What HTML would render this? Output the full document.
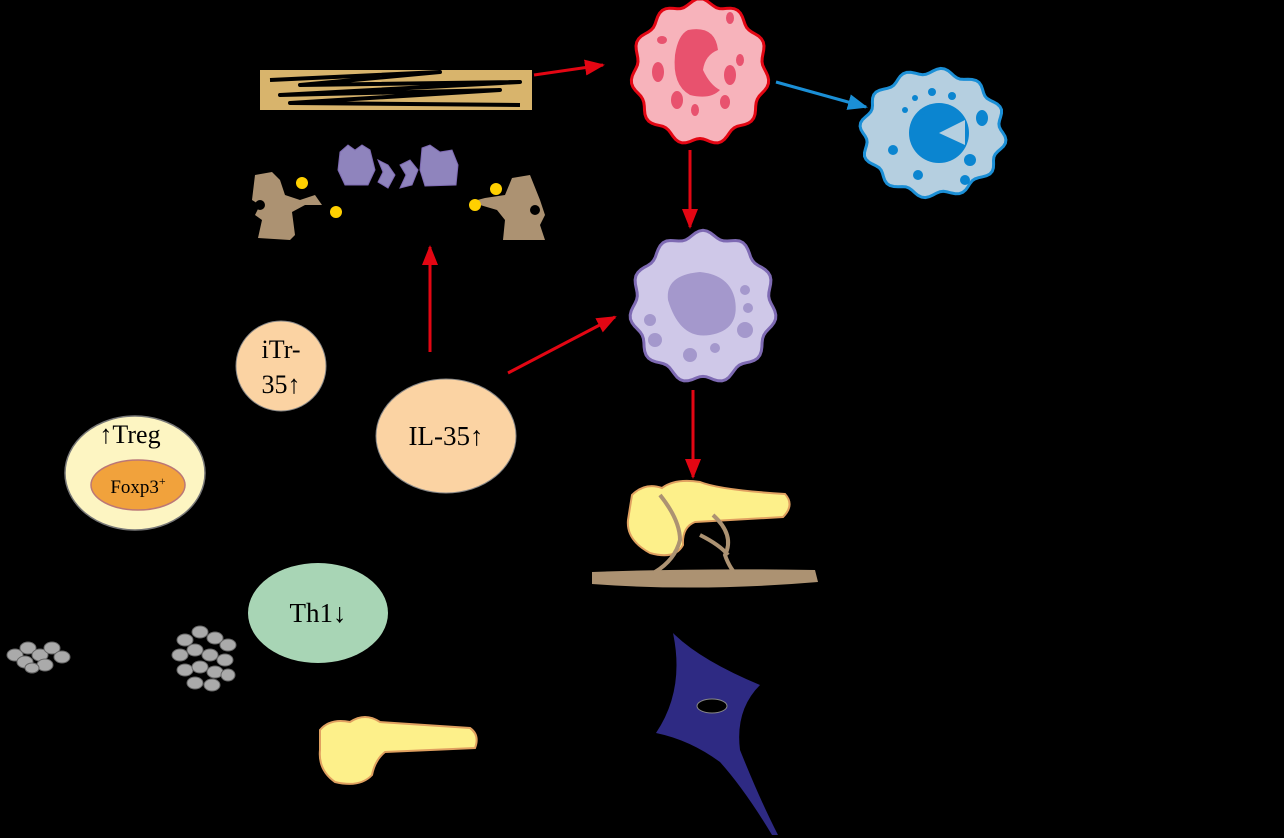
<!DOCTYPE html>
<html><head><style>html,body{margin:0;padding:0;background:#000;}svg{display:block}</style></head>
<body>
<svg width="1284" height="838" viewBox="0 0 1284 838" xmlns="http://www.w3.org/2000/svg" font-family="Liberation Serif, serif">
<defs>
<marker id="ar" markerWidth="20" markerHeight="16" refX="18" refY="8" orient="auto" markerUnits="userSpaceOnUse" viewBox="0 0 20 16"><path d="M0,0 L20,8 L0,16z" fill="#e30613"/></marker>
<marker id="ab" markerWidth="20" markerHeight="16" refX="18" refY="8" orient="auto" markerUnits="userSpaceOnUse" viewBox="0 0 20 16"><path d="M0,0 L20,8 L0,16z" fill="#1b8fd6"/></marker>
</defs>
<rect width="1284" height="838" fill="#000"/>
<rect x="260" y="70" width="272" height="40" fill="#d8b46c"/>
<path d="M270,80 L440,72 L300,85 L520,82 L280,95 L500,90 L290,103 L520,105" stroke="#000" stroke-width="4" fill="none" stroke-linejoin="round"/>
<g stroke="#e30613" stroke-width="3">
<line x1="534" y1="75" x2="603" y2="65" marker-end="url(#ar)"/>
<line x1="690" y1="150" x2="690" y2="227" marker-end="url(#ar)"/>
<line x1="430" y1="352" x2="430" y2="247" marker-end="url(#ar)"/>
<line x1="508" y1="373" x2="615" y2="317" marker-end="url(#ar)"/>
<line x1="693" y1="390" x2="693" y2="477" marker-end="url(#ar)"/>
</g>
<line x1="776" y1="82" x2="866" y2="107" stroke="#1b8fd6" stroke-width="3" marker-end="url(#ab)"/>
<path id="c1" fill="#f7b3bb" stroke="#e30613" stroke-width="3" d="M766,72 A66,70 0 1,1 634,72 A66,70 0 1,1 766,72Z"/>
<path d="M688,30 Q715,25 718,50 Q705,55 703,70 Q710,85 720,90 Q710,100 690,95 Q672,85 675,55 Q678,35 688,30z" fill="#e8526e"/>
<g fill="#e8526e"><ellipse cx="658" cy="72" rx="6" ry="10"/><ellipse cx="730" cy="75" rx="6" ry="10"/><ellipse cx="677" cy="100" rx="6" ry="9"/><ellipse cx="695" cy="110" rx="4" ry="6"/><ellipse cx="725" cy="102" rx="5" ry="7"/><ellipse cx="740" cy="60" rx="4" ry="6"/><ellipse cx="662" cy="40" rx="5" ry="4"/><ellipse cx="730" cy="18" rx="4" ry="6"/></g>
<path id="c2" fill="#b5cfe0" stroke="#1b8fd6" stroke-width="3" d="M1003,133 A70,62 0 1,1 863,133 A70,62 0 1,1 1003,133Z"/>
<circle cx="939" cy="133" r="30" fill="#0b85d0"/>
<path d="M939,133 L965,120 L965,145z" fill="#b5cfe0"/>
<g fill="#0b85d0"><circle cx="905" cy="110" r="3"/><circle cx="915" cy="98" r="3"/><circle cx="922" cy="112" r="3"/><circle cx="932" cy="92" r="4"/><ellipse cx="982" cy="118" rx="6" ry="8"/><circle cx="893" cy="150" r="5"/><circle cx="918" cy="175" r="5"/><circle cx="970" cy="160" r="6"/><circle cx="965" cy="180" r="5"/><circle cx="952" cy="96" r="4"/></g>
<path id="c3" fill="#cfc8e8" stroke="#7e6ab3" stroke-width="3" d="M773,307 A70,73 0 1,1 633,307 A70,73 0 1,1 773,307Z"/>
<path d="M668,300 Q665,275 700,272 Q730,275 735,300 Q740,330 710,335 Q680,340 668,300z" fill="#a498cc"/>
<g fill="#a498cc"><circle cx="650" cy="320" r="6"/><circle cx="655" cy="340" r="7"/><circle cx="690" cy="355" r="7"/><circle cx="715" cy="348" r="5"/><circle cx="745" cy="330" r="8"/><circle cx="748" cy="308" r="5"/><circle cx="745" cy="290" r="5"/></g>
<g fill="#8f84bd" stroke="#7e6ab3"><path d="M340,152 L348,145 L355,150 L362,145 L370,150 L375,170 L368,185 L345,185 L338,170z"/><path d="M378,160 L388,165 L395,175 L388,188 L378,182 L383,172z"/><path d="M400,165 L410,160 L418,170 L412,185 L400,188 L406,175z"/><path d="M422,148 L430,145 L440,152 L452,150 L458,165 L456,185 L425,186 L420,170z"/></g>
<g fill="#ac9272"><path d="M255,175 L272,172 L280,180 L285,195 L300,200 L315,195 L322,205 L305,205 L292,212 L295,235 L290,240 L258,238 L262,220 L255,215 L260,205 L252,200z"/>
<path d="M530,175 L512,178 L505,195 L485,198 L470,202 L480,205 L497,210 L505,220 L503,240 L545,240 L540,225 L545,215 L540,200z"/></g>
<g fill="#000"><circle cx="260" cy="205" r="5"/><circle cx="535" cy="210" r="5"/></g>
<g fill="#ffd000"><circle cx="302" cy="183" r="6"/><circle cx="336" cy="212" r="6"/><circle cx="496" cy="189" r="6"/><circle cx="475" cy="205" r="6"/></g>
<ellipse cx="135" cy="473" rx="70" ry="57" fill="#fdf5c2" stroke="#777" stroke-width="1.5"/>
<ellipse cx="138" cy="485" rx="47" ry="25" fill="#f1a23c" stroke="#b77" stroke-width="1.5"/>
<text x="130" y="443" font-size="26" text-anchor="middle" fill="#000">↑Treg</text>
<text x="138" y="493" font-size="19" text-anchor="middle" fill="#000">Foxp3<tspan font-size="12" dy="-8">+</tspan></text>
<circle cx="281" cy="366" r="45" fill="#fbd3a3" stroke="#888"/>
<text x="281" y="358" font-size="26" text-anchor="middle" fill="#000">iTr-</text>
<text x="281" y="393" font-size="26" text-anchor="middle" fill="#000">35↑</text>
<ellipse cx="446" cy="436" rx="70" ry="57" fill="#fbd3a3" stroke="#888"/>
<text x="446" y="445" font-size="27" text-anchor="middle" fill="#000">IL-35↑</text>
<ellipse cx="318" cy="613" rx="70" ry="50" fill="#a8d5b5"/>
<text x="318" y="622" font-size="27" text-anchor="middle" fill="#000">Th1↓</text>
<g fill="#aaa" stroke="#666" stroke-width="1">
<ellipse cx="15" cy="655" rx="8" ry="6"/><ellipse cx="28" cy="648" rx="8" ry="6"/><ellipse cx="40" cy="655" rx="8" ry="6"/><ellipse cx="52" cy="648" rx="8" ry="6"/><ellipse cx="62" cy="657" rx="8" ry="6"/><ellipse cx="25" cy="662" rx="8" ry="6"/><ellipse cx="45" cy="665" rx="8" ry="6"/><ellipse cx="32" cy="668" rx="7" ry="5"/>
<ellipse cx="185" cy="640" rx="8" ry="6"/><ellipse cx="200" cy="632" rx="8" ry="6"/><ellipse cx="215" cy="638" rx="8" ry="6"/><ellipse cx="228" cy="645" rx="8" ry="6"/><ellipse cx="180" cy="655" rx="8" ry="6"/><ellipse cx="195" cy="650" rx="8" ry="6"/><ellipse cx="210" cy="655" rx="8" ry="6"/><ellipse cx="225" cy="660" rx="8" ry="6"/><ellipse cx="185" cy="670" rx="8" ry="6"/><ellipse cx="200" cy="667" rx="8" ry="6"/><ellipse cx="215" cy="672" rx="8" ry="6"/><ellipse cx="195" cy="683" rx="8" ry="6"/><ellipse cx="212" cy="685" rx="8" ry="6"/><ellipse cx="228" cy="675" rx="7" ry="6"/>
</g>
<path d="M320,730 Q330,718 350,722 Q365,712 380,722 L470,728 Q480,735 475,748 L385,752 Q375,760 372,775 Q360,788 335,782 Q318,770 320,750z" fill="#fdf08a" stroke="#e0a060" stroke-width="2"/>
<path d="M632,495 Q645,482 662,488 Q675,478 700,482 Q720,490 785,494 Q795,505 783,517 L695,522 Q682,527 683,545 Q675,560 650,553 Q626,540 628,520z" fill="#fdf08a" stroke="#e0a060" stroke-width="2"/>
<g stroke="#ac9272" fill="none" stroke-width="4"><path d="M660,495 Q680,520 680,540 Q675,560 655,572"/><path d="M713,515 Q735,535 725,555 Q730,570 740,578"/><path d="M700,535 Q720,545 728,555"/></g>
<path d="M592,572 Q700,568 815,570 L818,582 Q700,592 592,584z" fill="#ac9272"/>
<path d="M673,633 Q700,660 760,685 Q735,710 740,750 Q760,800 778,835 L772,835 Q745,790 720,762 Q690,740 656,733 Q685,690 673,633z" fill="#2e2a83"/>
<ellipse cx="712" cy="706" rx="15" ry="7" fill="#000" stroke="#888"/>
<script>
function wavy(id,cx,cy,rx,ry,n,a){var d="";for(var i=0;i<=360;i+=3){var t=i*Math.PI/180;var r=1+a*Math.sin(n*t);var x=cx+rx*r*Math.cos(t),y=cy+ry*r*Math.sin(t);d+=(i?"L":"M")+x.toFixed(1)+","+y.toFixed(1);}document.getElementById(id).setAttribute("d",d+"Z");}
wavy("c1",700,72,66,70,11,0.05);wavy("c2",933,133,70,62,12,0.05);wavy("c3",703,307,70,73,11,0.05);
</script>
</svg>
</body></html>
